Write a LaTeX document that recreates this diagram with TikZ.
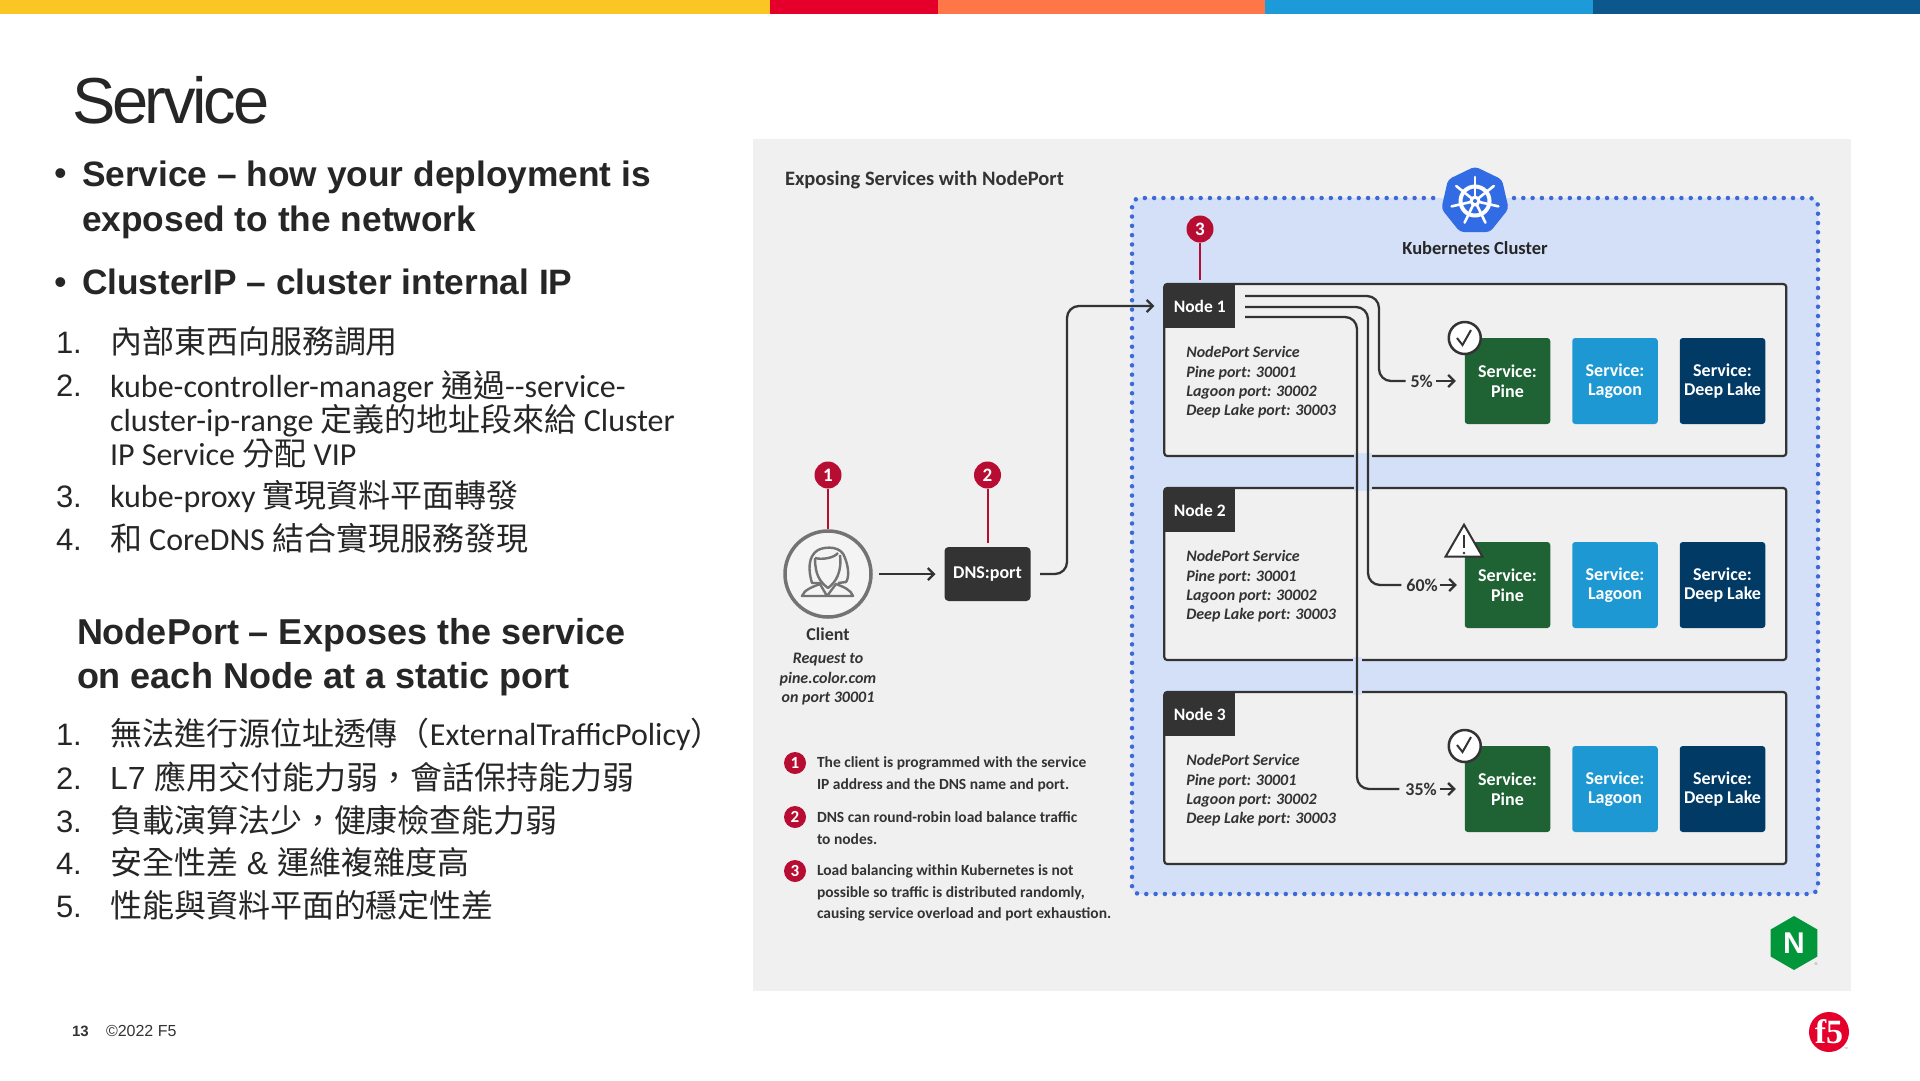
\documentclass[tikz,border=0pt]{standalone}
\usepackage{fontspec}
\setmainfont{Carlito}
\newfontfamily\arialfont{Liberation Sans}
\newfontfamily\titlefont[LetterSpace=-5]{Liberation Sans}
\newfontfamily\logofont{Liberation Serif}
\newfontfamily\cjk[Script=CJK,Language=Chinese Traditional]{Noto Sans CJK TC}
\usetikzlibrary{positioning,arrows.meta,shapes.geometric}
\newcommand{\zh}[1]{{\cjk #1}}
\newcommand{\fsz}[2]{\fontsize{#1}{#2}\selectfont}
\definecolor{panelgray}{HTML}{F0F0F0}
\definecolor{clusterfill}{HTML}{D3E0F8}
\definecolor{dotblue}{HTML}{3D69D8}
\definecolor{k8sblue}{HTML}{326CE5}
\definecolor{inkdark}{HTML}{333333}
\definecolor{badgered}{HTML}{B80D33}
\definecolor{pinegreen}{HTML}{1F6334}
\definecolor{lagoonblue}{HTML}{1E98D2}
\definecolor{deepblue}{HTML}{023A66}

\begin{document}
\begin{tikzpicture}[
  x=1pt, y=-1pt,
  every node/.style={outer sep=0pt},
  nodebox/.style={draw=inkdark, line width=2.2pt, fill=panelgray, rounded corners=3pt, minimum width=622pt, minimum height=172pt},
  headbox/.style={fill=inkdark, text=white, font=\fsz{17.5}{20}\bfseries, minimum width=71pt, minimum height=44pt, inner sep=0pt},
  porttext/.style={font=\fsz{16}{19.3}\bfseries\itshape, text=inkdark, align=left, inner sep=0pt},
  svc/.style={rounded corners=3pt, minimum width=85.5pt, minimum height=86pt, inner sep=0pt, text=white, align=center, font=\fsz{18}{19.5}\bfseries},
  pct/.style={font=\fsz{18}{20}\bfseries, text=inkdark, inner sep=0pt},
  arr/.style={draw=inkdark, line width=2.3pt, -{Straight Barb[length=6pt,width=12pt]}},
  wire/.style={draw=inkdark, line width=2.3pt, rounded corners=12pt},
  badge/.style={circle, fill=badgered, text=white, minimum size=27pt, inner sep=0pt, font=\fsz{19}{20}\bfseries},
  smallbadge/.style={circle, fill=badgered, text=white, minimum size=22pt, inner sep=0pt, font=\fsz{17}{18}\bfseries},
  redline/.style={draw=badgered, line width=2pt},
  legend/.style={anchor=north west, inner sep=0pt, align=left, text=inkdark, font=\fsz{15.5}{21.5}\bfseries},
  okmark/.style={circle, draw=inkdark, line width=2.5pt, fill=white, minimum size=32pt, inner sep=0pt},
  tick/.style={draw=inkdark, line width=2pt},
  icon/.style={draw=black!55, line width=2.4pt, line join=round},
  boldtext/.style={anchor=north west, inner sep=0pt, align=left, text=black!85, font=\arialfont\fsz{35.3}{45}\bfseries},
  bulletdot/.style={anchor=base west, inner sep=0pt, text=black!85, font=\arialfont\fsz{36}{36}},
  listnum/.style={anchor=base west, inner sep=0pt, text=black!85, font=\arialfont\fsz{31}{34}},
  listtext/.style={anchor=base west, inner sep=0pt, text=black!85, font=\fsz{32}{34}}
]
\useasboundingbox (0,0) rectangle (1920,1080);
% top colour band
\fill[fill={rgb,255:red,249;green,198;blue,35}] (0,0) rectangle (770,14);
\fill[fill={rgb,255:red,228;green,0;blue,43}] (770,0) rectangle (938,14);
\fill[fill={rgb,255:red,255;green,118;blue,72}] (938,0) rectangle (1265,14);
\fill[fill={rgb,255:red,29;green,155;blue,216}] (1265,0) rectangle (1593,14);
\fill[fill={rgb,255:red,12;green,88;blue,140}] (1593,0) rectangle (1920,14);

% left column
\node[anchor=base west, inner sep=0pt, text=black!85, font=\titlefont\fsz{65}{65}] (title) at (72,123) {Service};
\node[bulletdot] (dot1) at (54,185) {•};
\node[boldtext] (svcdef) at (82,161) {Service – how your deployment is\\exposed to the network};
\node[bulletdot] (dot2) at (54,294) {•};
\node[boldtext, anchor=base west] (cipdef) at (82,294) {ClusterIP – cluster internal IP};

\node[listnum] (ca) at (56,353) {1.};
\node[listtext] (cat) at (110,353) {\zh{內部東西向服務調用}};
\node[listnum] (cb) at (56,396) {2.};
\node[listtext, anchor=north west, align=left] (cbt) at (110,371) {kube-controller-manager \zh{通過}-{}-service-\\cluster-ip-range \zh{定義的地址段來給} Cluster\\IP Service \zh{分配} VIP};
\node[listnum] (cc) at (56,507) {3.};
\node[listtext] (cct) at (110,507) {kube-proxy \zh{實現資料平面轉發}};
\node[listnum] (cd) at (56,550) {4.};
\node[listtext] (cdt) at (110,550) {\zh{和} CoreDNS \zh{結合實現服務發現}};

\node[boldtext, font=\arialfont\fsz{36}{44}\bfseries] (npdef) at (77,618) {NodePort – Exposes the service\\on each Node at a static port};

\node[listnum] (na) at (56,745) {1.};
\node[listtext] (nat) at (110,745) {\zh{無法進行源位址透傳（}ExternalTrafficPolicy\zh{）}};
\node[listnum] (nb) at (56,789) {2.};
\node[listtext, font=\arialfont\fsz{32}{34}] (nbt) at (110,789) {L7 \zh{應用交付能力弱，會話保持能力弱}};
\node[listnum] (nc) at (56,832) {3.};
\node[listtext] (nct) at (110,832) {\zh{負載演算法少，健康檢查能力弱}};
\node[listnum] (nd) at (56,874) {4.};
\node[listtext, font=\arialfont\fsz{32}{34}] (ndt) at (110,874) {\zh{安全性差} \& \zh{運維複雜度高}};
\node[listnum] (ne) at (56,917) {5.};
\node[listtext] (net) at (110,917) {\zh{性能與資料平面的穩定性差}};

% footer
\node[anchor=base west, inner sep=0pt, font=\arialfont\fsz{15}{16}\bfseries, text=black!80] (pageno) at (72,1036) {13};
\node[anchor=base west, inner sep=0pt, font=\arialfont\fsz{16}{16}, text=black!80] (copyr) at (106,1036) {©2022 F5};

% diagram panel
\node[fill=panelgray, minimum width=1098pt, minimum height=852pt] (panel) at (1302,565) {};
\node[anchor=base west, inner sep=0pt, font=\fsz{20.5}{24}\bfseries, text=inkdark] (diagtitle) at (785,185) {Exposing Services with NodePort};

% cluster
\node[fill=clusterfill, rounded corners=8pt, minimum width=686pt, minimum height=696pt] (cluster) at (1475,546) {};
\draw[dotblue, line width=4.5pt, line cap=round, dash pattern=on 0pt off 9.3pt, rounded corners=8pt] (1514,198) -- (1818,198) -- (1818,894) -- (1132,894) -- (1132,198) -- (1437,198);
\node[regular polygon, regular polygon sides=7, fill=k8sblue, minimum size=69pt, inner sep=0pt, rounded corners=4pt] (k8s) at (1475,201) {};
\draw[white, line width=4pt] (k8s.center) circle (14.5pt);
\draw[white, line width=2.6pt, line cap=round] ([shift={(90:3pt)}]k8s.center) -- ([shift={(90:24pt)}]k8s.center);
\draw[white, line width=2.6pt, line cap=round] ([shift={(38.6:3pt)}]k8s.center) -- ([shift={(38.6:24pt)}]k8s.center);
\draw[white, line width=2.6pt, line cap=round] ([shift={(-12.9:3pt)}]k8s.center) -- ([shift={(-12.9:24pt)}]k8s.center);
\draw[white, line width=2.6pt, line cap=round] ([shift={(-64.3:3pt)}]k8s.center) -- ([shift={(-64.3:24pt)}]k8s.center);
\draw[white, line width=2.6pt, line cap=round] ([shift={(-115.7:3pt)}]k8s.center) -- ([shift={(-115.7:24pt)}]k8s.center);
\draw[white, line width=2.6pt, line cap=round] ([shift={(-167.1:3pt)}]k8s.center) -- ([shift={(-167.1:24pt)}]k8s.center);
\draw[white, line width=2.6pt, line cap=round] ([shift={(141.4:3pt)}]k8s.center) -- ([shift={(141.4:24pt)}]k8s.center);
\fill[white] (k8s.center) circle (5.5pt);
\fill[k8sblue] (k8s.center) circle (2pt);
\node[font=\fsz{18.5}{22}\bfseries, text=black!85, inner sep=0pt] (k8slabel) at (1475,248) {Kubernetes Cluster};

% nodes
\node[nodebox] (box1) at (1475.25,370) {};
\node[nodebox, below=32pt of box1] (box2) {};
\node[nodebox, below=32pt of box2] (box3) {};
\node[headbox, anchor=north west] (head1) at (box1.north west) {Node 1};
\node[headbox, anchor=north west] (head2) at (box2.north west) {Node 2};
\node[headbox, anchor=north west] (head3) at (box3.north west) {Node 3};
\node[porttext, below right=18.5pt and 22pt of head1.south west] (ports1) {NodePort Service\\Pine port: 30001\\Lagoon port: 30002\\Deep Lake port: 30003};
\node[porttext, below right=18.5pt and 22pt of head2.south west] (ports2) {NodePort Service\\Pine port: 30001\\Lagoon port: 30002\\Deep Lake port: 30003};
\node[porttext, below right=18.5pt and 22pt of head3.south west] (ports3) {NodePort Service\\Pine port: 30001\\Lagoon port: 30002\\Deep Lake port: 30003};

% services
\node[svc, fill=pinegreen] (pine1) at (1507.5,381) {Service:\\Pine};
\node[svc, fill=lagoonblue, right=22pt of pine1] (lagoon1) {Service:\\Lagoon};
\node[svc, fill=deepblue, right=22pt of lagoon1] (deep1) {Service:\\Deep Lake};
\node[svc, fill=pinegreen, below=118pt of pine1] (pine2) {Service:\\Pine};
\node[svc, fill=lagoonblue, right=22pt of pine2] (lagoon2) {Service:\\Lagoon};
\node[svc, fill=deepblue, right=22pt of lagoon2] (deep2) {Service:\\Deep Lake};
\node[svc, fill=pinegreen, below=118pt of pine2] (pine3) {Service:\\Pine};
\node[svc, fill=lagoonblue, right=22pt of pine3] (lagoon3) {Service:\\Lagoon};
\node[svc, fill=deepblue, right=22pt of lagoon3] (deep3) {Service:\\Deep Lake};

\node[pct, left=32pt of pine1] (pct1) {5\%};
\node[pct, left=27pt of pine2] (pct2) {60\%};
\node[pct, left=28pt of pine3] (pct3) {35\%};

% gaps where the wires pass the node borders
\fill[clusterfill] (1354,453) rectangle (1372,459);
\fill[clusterfill] (1354,485) rectangle (1372,491);
\fill[clusterfill] (1353,657) rectangle (1362,663);
\fill[clusterfill] (1353,689) rectangle (1362,695);

% wires from node 1
\coordinate (wirea) at (1245,296);
\coordinate (wireb) at (1245,307);
\coordinate (wirec) at (1245,317);
\draw[wire, shorten >=5pt] (wirea) -- (1379,296) |- (pct1.west);
\draw[wire, shorten >=5pt] (wireb) -- (1368,307) |- (pct2.west);
\draw[wire, shorten >=6pt] (wirec) -- (1357,317) |- (pct3.west);
\draw[arr, shorten <=3pt, shorten >=9pt] (pct1) -- (pine1);
\draw[arr, shorten <=2pt, shorten >=8pt] (pct2) -- (pine2);
\draw[arr, shorten <=3pt, shorten >=9pt] (pct3) -- (pine3);

% health marks
\node[okmark] (ok1) at (pine1.north west) {};
\draw[tick] (1457,338) -- (1462.5,345) -- (1471,330);
\node[okmark] (ok3) at (pine3.north west) {};
\draw[tick] (1457,745) -- (1462.5,752) -- (1471,737);
\node[draw=inkdark, line width=2pt, fill=white, isosceles triangle, isosceles triangle apex angle=60, shape border rotate=90, minimum height=32pt, inner sep=0pt] (warn2) at (1464,546) {};
\draw[tick] (1464,535) -- (1464,548);
\fill[inkdark] (1464,553) circle (1.3pt);

% client and dns
\node[circle, draw=black!55, line width=3.5pt, fill=panelgray!70!white, minimum size=86pt, inner sep=0pt] (client) at (828,574) {};
\draw[icon] (823,583) -- (812,583) .. controls (808,570) and (808,556) .. (818,550) .. controls (826,546) and (842,546) .. (845,558) .. controls (849,568) and (849,578) .. (846,582) -- (838,583);
\draw[icon] (815,558) .. controls (822,560) and (834,558) .. (838,553);
\draw[icon] (815,558) .. controls (815,575) and (820,582) .. (828,588) .. controls (836,582) and (842,572) .. (840,555);
\draw[icon] (802,596) .. controls (804,590) and (812,587) .. (820,584) -- (827,596) -- (836,584) .. controls (844,587) and (851,590) .. (853,596) -- cycle;
\node[font=\fsz{18}{20}\bfseries, text=inkdark, inner sep=0pt] (clientlabel) at (828,634) {Client};
\node[font=\fsz{16}{19.3}\bfseries\itshape, text=inkdark, align=center, inner sep=0pt, below=13pt of clientlabel] (clientnote) {Request to\\pine.color.com\\on port 30001};
\node[rounded corners=4pt, fill=inkdark, text=white, minimum width=86pt, minimum height=54pt, inner sep=0pt, font=\fsz{18}{20}\bfseries] (dns) at (987.5,574) {DNS:port};
\draw[arr, shorten <=8pt, shorten >=9pt] (client) -- (dns);
\draw[arr, rounded corners=12pt, shorten <=9.5pt, shorten >=10pt] (dns.east) -- (1067,574) -- (1067,306) -- (head1.west);

% badges
\node[badge] (mark1) at (828,475) {1};
\node[badge] (mark2) at (987.5,475) {2};
\node[badge] (mark3) at (1200,229) {3};
\draw[redline, shorten >=2pt] (mark1) -- (client);
\draw[redline, shorten >=4pt] (mark2) -- (dns);
\draw[redline, shorten >=4pt] (mark3) -- (mark3 |- box1.north);

% legend
\node[smallbadge] (key1) at (795,763) {1};
\node[legend] (keytext1) at (817,757) {The client is programmed with the service\\IP address and the DNS name and port.};
\node[smallbadge] (key2) at (795,817) {2};
\node[legend] (keytext2) at (817,812) {DNS can round-robin load balance traffic\\to nodes.};
\node[smallbadge] (key3) at (795,871) {3};
\node[legend] (keytext3) at (817,865) {Load balancing within Kubernetes is not\\possible so traffic is distributed randomly,\\causing service overload and port exhaustion.};

% logos
\node[regular polygon, regular polygon sides=6, shape border rotate=30, fill={rgb,255:red,0;green,150;blue,57}, text=white, minimum size=54pt, inner sep=0pt, font=\arialfont\fsz{30}{30}\bfseries] (nginx) at (1794,943) {N};
\node[font=\arialfont\fsz{4}{4}, text=black!50, inner sep=0pt] (nginxreg) at (1816,964) {®};
\node[circle, fill={rgb,255:red,228;green,0;blue,43}, text=white, minimum size=40pt, inner sep=0pt, font=\logofont\fsz{34}{34}\bfseries] (f5logo) at (1829,1032) {f5};
\node[font=\arialfont\fsz{4}{4}, text=black!50, inner sep=0pt] (f5tm) at (1846,1049) {™};
\end{tikzpicture}
\end{document}
